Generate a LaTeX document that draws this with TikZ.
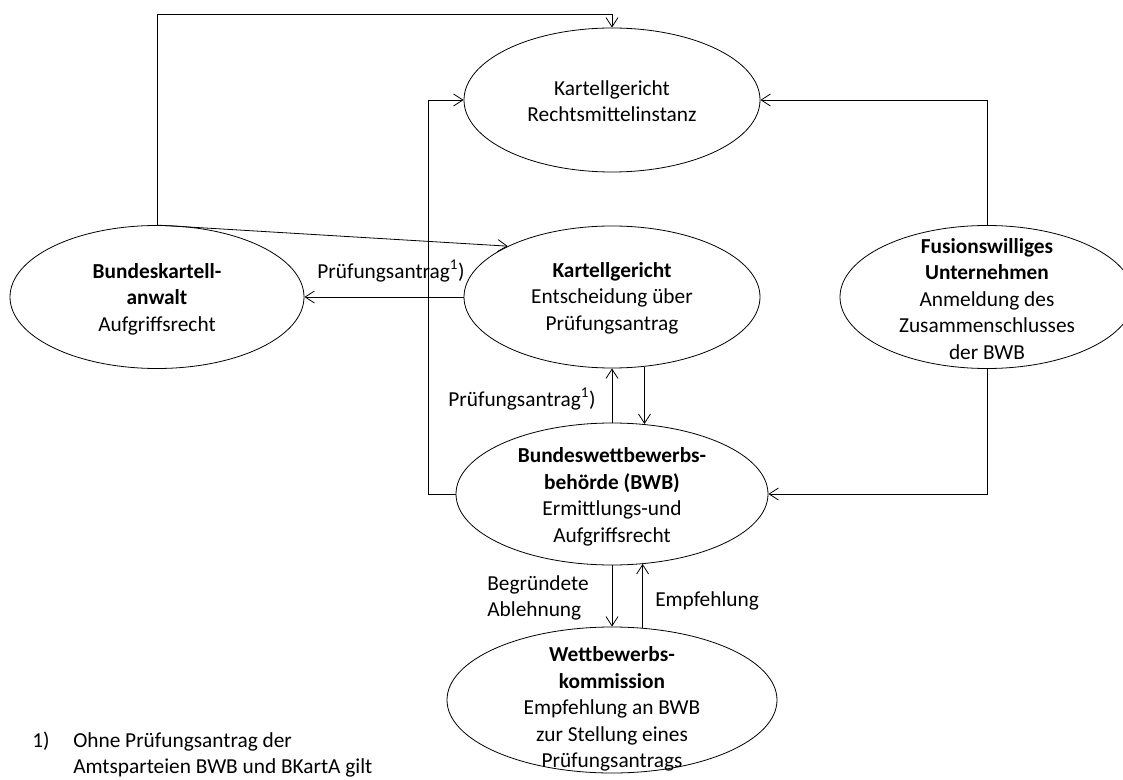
\documentclass[tikz,border=0pt]{standalone}
\usepackage{fontspec}
\setmainfont{Carlito}
\usetikzlibrary{arrows.meta,shapes.geometric}
\tikzset{
  ell/.style={draw, ellipse, inner sep=0pt, line width=0.6pt},
  txt/.style={align=center, inner sep=0pt, font=\fontsize{16}{19.9}\selectfont},
  lbl/.style={inner sep=0pt, font=\fontsize{16}{19.9}\selectfont},
  con/.style={line width=0.6pt},
  arr/.style={con, -{Straight Barb[length=7pt,width=9pt,line width=0.6pt]}}
}
\begin{document}
\begin{tikzpicture}[x=0.75pt, y=-0.75pt]
\useasboundingbox (0,0) rectangle (1123,780);
\clip (0,0) rectangle (1123,780);
% ellipses
\node[ell, minimum width=222pt, minimum height=108pt] (kr) at (612,100) {};
\node[ell, minimum width=222pt, minimum height=106.5pt] (ke) at (612,297) {};
\node[ell, minimum width=220.5pt, minimum height=107.25pt] (bk) at (157,297) {};
\node[ell, minimum width=220.5pt, minimum height=107.25pt] (fu) at (987,297) {};
\node[ell, minimum width=234pt, minimum height=106.5pt] (bwb) at (612,494) {};
\node[ell, minimum width=247.5pt, minimum height=109.5pt] (wk) at (612,700) {};
% texts
\node[txt] (krt) at (612,101) {Kartellgericht\\Rechtsmittelinstanz};
\node[txt] (ket) at (612,298) {\textbf{Kartellgericht}\\Entscheidung über\\Prüfungsantrag};
\node[txt] (bkt) at (157,299) {\textbf{Bundeskartell-}\\\textbf{anwalt}\\Aufgriffsrecht};
\node[txt] (fut) at (987,299) {\textbf{Fusionswilliges}\\\textbf{Unternehmen}\\Anmeldung des\\Zusammenschlusses\\der BWB};
\node[txt] (bwbt) at (612,497) {\textbf{Bundeswettbewerbs-}\\\textbf{behörde (BWB)}\\Ermittlungs-und\\Aufgriffsrecht};
\node[txt] (wkt) at (612,709) {\textbf{Wettbewerbs-}\\\textbf{kommission}\\Empfehlung an BWB\\zur Stellung eines\\Prüfungsantrags};
% helper coordinates
\coordinate (ty) at (0,14);
\coordinate (vx) at (428,0);
% connectors
\draw[arr] (bk.north) -- (bk.north |- ty) -- (kr.north |- ty) -- (kr.north);
\draw[arr] (bk.north) -- (ke.154.5);
\draw[arr] (ke.west) -- (bk.east);
\draw[arr] (bwb.west) -- (bwb.west -| vx) -- (vx |- kr.west) -- (kr.west);
\draw[arr] (fu.north) -- (fu.north |- kr.east) -- (kr.east);
\draw[arr] (fu.south) -- (fu.south |- bwb.east) -- (bwb.east);
\draw[arr] (ke.-65.9) -- (ke.-65.9 |- bwb.66);
\draw[arr] (bwb.north) -- (ke.south);
\draw[arr] (bwb.south) -- (wk.north);
\draw[arr] (wk.67.3) -- (wk.67.3 |- bwb.-66.7);
% labels
\node[lbl] (l1) at (391,271) {Prüfungsantrag\textsuperscript{1})};
\node[lbl] (l2) at (522,399) {Prüfungsantrag\textsuperscript{1})};
\node[lbl, align=left] (l3) at (538,598) {Begründete\\Ablehnung};
\node[lbl, anchor=west] (l4) at (655,601) {Empfehlung};
% footnote
\node[lbl, anchor=base west] (fn1) at (32,747) {1)};
\node[lbl, anchor=base west] (fn2) at (73,747) {Ohne Prüfungsantrag der};
\node[lbl, anchor=base west] (fn3) at (73,773) {Amtsparteien BWB und BKartA gilt};
\end{tikzpicture}
\end{document}
